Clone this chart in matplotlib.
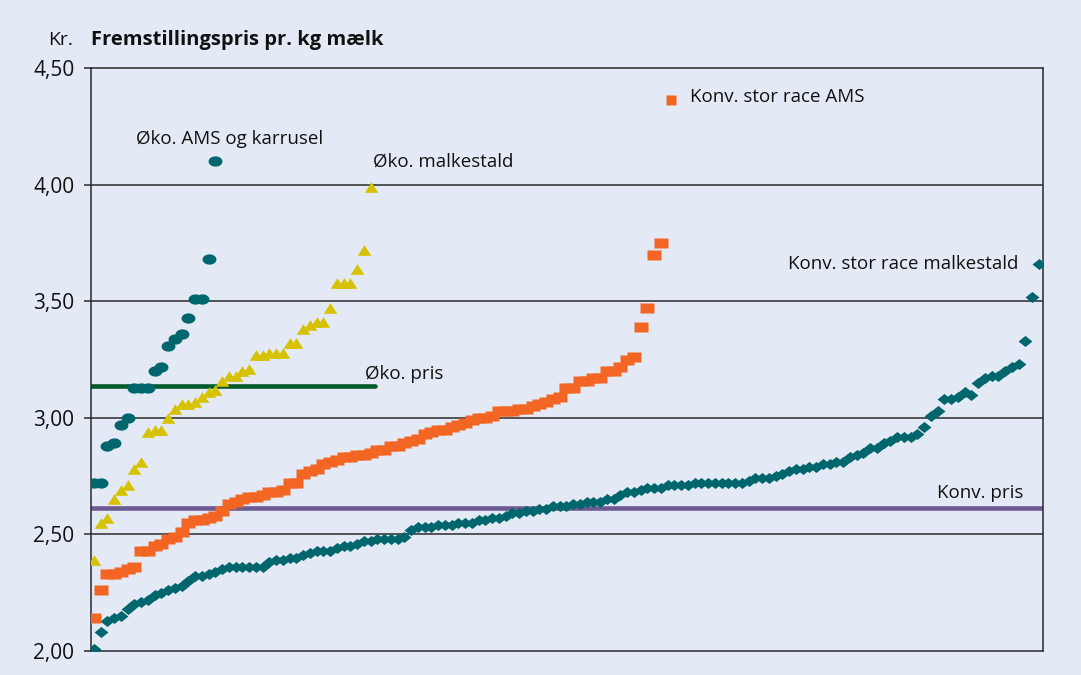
import numpy as np
import matplotlib
matplotlib.use("Agg")
import matplotlib.pyplot as plt
from matplotlib.path import Path

plt.rcParams['font.family'] = ['Open Sans', 'DejaVu Sans']

# ---- data (farms sorted by cost, kr. per kg milk) ----
oko_ams = [2.72, 2.72, 2.88, 2.89, 2.97, 3.00, 3.13, 3.13, 3.13, 3.20, 3.22,
           3.31, 3.34, 3.36, 3.43, 3.51, 3.51, 3.68, 4.10]

oko_malkestald = [2.39, 2.55, 2.57, 2.65, 2.69, 2.71, 2.78, 2.81, 2.94, 2.95, 2.95,
                  3.00, 3.04, 3.06, 3.06, 3.07, 3.09, 3.11, 3.12, 3.16, 3.18, 3.18,
                  3.20, 3.21, 3.27, 3.27, 3.28, 3.28, 3.28, 3.32, 3.32, 3.38, 3.40,
                  3.41, 3.41, 3.47, 3.58, 3.58, 3.58, 3.64, 3.72, 3.99]

konv_ams = [2.14, 2.26, 2.33, 2.33, 2.34, 2.35, 2.36, 2.43, 2.43, 2.45, 2.46,
            2.48, 2.49, 2.51, 2.55, 2.56, 2.56, 2.57, 2.58, 2.60, 2.63, 2.64,
            2.65, 2.66, 2.66, 2.67, 2.68, 2.68, 2.69, 2.72, 2.72, 2.76, 2.77,
            2.78, 2.80, 2.81, 2.82, 2.83, 2.83, 2.84, 2.84, 2.85, 2.86, 2.86,
            2.88, 2.88, 2.89, 2.90, 2.91, 2.93, 2.94, 2.95, 2.95, 2.96, 2.97,
            2.98, 2.99, 3.00, 3.00, 3.01, 3.03, 3.03, 3.03, 3.04, 3.04, 3.05,
            3.06, 3.07, 3.08, 3.09, 3.13, 3.13, 3.16, 3.16, 3.17, 3.17, 3.20,
            3.20, 3.22, 3.25, 3.26, 3.39, 3.47, 3.70, 3.75]

konv_malkestald = [2.01, 2.08, 2.13, 2.14, 2.15, 2.18, 2.20, 2.21, 2.22, 2.24, 2.25,
                   2.26, 2.27, 2.28, 2.30, 2.32, 2.32, 2.33, 2.34, 2.35, 2.36, 2.36,
                   2.36, 2.36, 2.36, 2.36, 2.38, 2.39, 2.39, 2.40, 2.40, 2.41, 2.42,
                   2.43, 2.43, 2.43, 2.44, 2.45, 2.45, 2.46, 2.47, 2.47, 2.48, 2.48,
                   2.48, 2.48, 2.49, 2.52, 2.53, 2.53, 2.53, 2.54, 2.54, 2.54, 2.55,
                   2.55, 2.55, 2.56, 2.56, 2.57, 2.57, 2.58, 2.59, 2.59, 2.60, 2.60,
                   2.61, 2.61, 2.62, 2.62, 2.62, 2.63, 2.63, 2.64, 2.64, 2.64, 2.65,
                   2.65, 2.67, 2.68, 2.68, 2.69, 2.70, 2.70, 2.70, 2.71, 2.71, 2.71,
                   2.71, 2.72, 2.72, 2.72, 2.72, 2.72, 2.72, 2.72, 2.72, 2.73, 2.74,
                   2.74, 2.74, 2.75, 2.76, 2.77, 2.78, 2.78, 2.79, 2.79, 2.80, 2.80,
                   2.81, 2.81, 2.83, 2.84, 2.85, 2.87, 2.87, 2.89, 2.90, 2.92, 2.92,
                   2.92, 2.93, 2.96, 3.01, 3.03, 3.08, 3.08, 3.09, 3.11, 3.10, 3.15,
                   3.17, 3.18, 3.18, 3.20, 3.22, 3.23, 3.33, 3.52, 3.66]

oko_pris = 3.135
konv_pris = 2.614
oko_pris_end = 42.6

yticks = [2.00, 2.50, 3.00, 3.50, 4.00, 4.50]
ytick_labels = ["2,00", "2,50", "3,00", "3,50", "4,00", "4,50"]

# ---- colours ----
BG = "#e4eaf5"
TEAL = "#00666e"
ORANGE = "#f26522"
YELLOW = "#d6c200"
DGREEN = "#005a2b"
PURPLE = "#6d5a93"
TXT = "#111111"

# ---- custom marker shapes ----
t = np.linspace(0, 2 * np.pi, 40)
ellipse = Path(np.column_stack([np.cos(t), 0.74 * np.sin(t)]), closed=True)
rect = Path([(-1, -0.76), (1, -0.76), (1, 0.76), (-1, 0.76), (-1, -0.76)], closed=True)
tri = Path([(-1, -0.78), (1, -0.78), (0, 0.78), (-1, -0.78)], closed=True)
diam = Path([(-1, 0), (0, -0.8), (1, 0), (0, 0.8), (-1, 0)], closed=True)

fig = plt.figure(figsize=(10.81, 6.75), dpi=100, facecolor=BG)
ax = fig.add_axes([0.0842, 0.0356, 0.965 - 0.0842, 0.899 - 0.0356], facecolor=BG)

ax.set_xlim(0.59, 141.64)
ax.set_ylim(2.0, 4.5)

for y in yticks[1:-1]:
    ax.axhline(y, color="#2a2a2a", lw=1.1, zorder=1)

ax.plot([0.59, oko_pris_end], [oko_pris, oko_pris], color=DGREEN, lw=3.3,
        solid_capstyle="round", zorder=2)
ax.axhline(konv_pris, color=PURPLE, lw=3.3, zorder=2)

def x_of(s):
    return np.arange(1, len(s) + 1)

ax.plot(x_of(konv_malkestald), konv_malkestald, ls="none", marker=diam,
        ms=10.0, color=TEAL, mec="none", zorder=3)
ax.plot(x_of(konv_ams), konv_ams, ls="none", marker=rect,
        ms=10.2, color=ORANGE, mec="none", zorder=3)
ax.plot(x_of(oko_malkestald), oko_malkestald, ls="none", marker=tri,
        ms=9.8, color=YELLOW, mec="none", zorder=4)
ax.plot(x_of(oko_ams), oko_ams, ls="none", marker=ellipse,
        ms=10.0, color=TEAL, mec="none", zorder=5)

# legend-like square for Konv. stor race AMS
ax.plot([86.5], [4.362], ls="none", marker="s", ms=7.5, color=ORANGE, mec="none")

fs = 13.5
ax.text(7.3, 4.176, "Øko. AMS og karrusel", fontsize=fs, va="baseline", ha="left", color=TXT)
ax.text(42.3, 4.079, "Øko. malkestald", fontsize=fs, va="baseline", ha="left", color=TXT)
ax.text(89.3, 4.357, "Konv. stor race AMS", fontsize=fs, va="baseline", ha="left", color=TXT)
ax.text(137.9, 3.640, "Konv. stor race malkestald", fontsize=fs, va="baseline", ha="right", color=TXT)
ax.text(41.2, 3.166, "Øko. pris", fontsize=fs, va="baseline", ha="left", color=TXT)
ax.text(125.9, 2.656, "Konv. pris", fontsize=fs, va="baseline", ha="left", color=TXT)

ax.set_yticks(yticks)
ax.set_yticklabels(ytick_labels, fontsize=15, color=TXT)
ax.set_xticks([])
ax.tick_params(axis="y", length=5, width=1.1, color="#2a2a2a", pad=7)
for s in ax.spines.values():
    s.set_color("#2a2a2a")
    s.set_linewidth(1.1)

fig.text(48 / 1081, 1 - 45 / 675, "Kr.", fontsize=14, va="baseline", ha="left", color=TXT)
fig.text(91 / 1081, 1 - 45 / 675, "Fremstillingspris pr. kg mælk", fontsize=14.5,
         fontweight="bold", va="baseline", ha="left", color=TXT)

fig.savefig("out.png", dpi=100, facecolor=BG)
